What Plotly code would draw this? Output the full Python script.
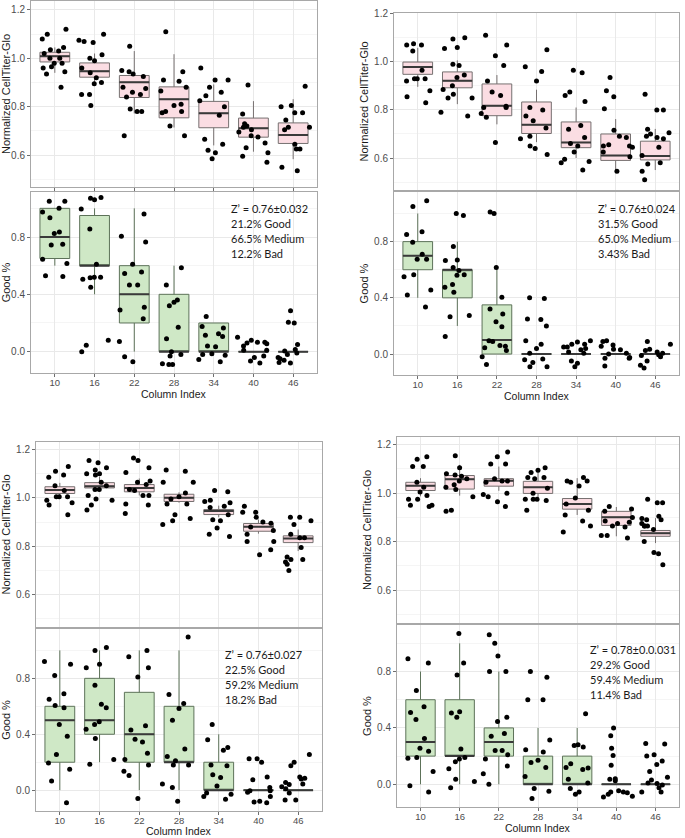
import plotly.graph_objects as go

# ---- data -------------------------------------------------------------
COLS = ["10", "16", "22", "28", "34", "40", "46"]

# box stats per column: (lower whisker, q1, median, q3, upper whisker)
A_TOP_BOX = [(0.94, 0.985, 1.009, 1.025, 1.045), (0.892, 0.922, 0.947, 0.981, 1.02),
             (0.772, 0.838, 0.901, 0.929, 1.03), (0.714, 0.754, 0.831, 0.882, 1.017),
             (0.64, 0.713, 0.773, 0.822, 0.892), (0.614, 0.674, 0.711, 0.753, 0.823),
             (0.583, 0.648, 0.683, 0.733, 0.831)]
A_TOP_PTS = [
    [1.12, 1.10, 1.08, 1.045, 1.035, 1.03, 1.0, 1.0, 0.98, 0.98, 0.965, 0.945, 0.935, 0.96, 0.88, 1.02],
    [1.10, 1.075, 1.07, 1.065, 1.015, 1.0, 0.99, 0.96, 0.94, 0.92, 0.9, 0.895, 0.85, 0.85, 0.805],
    [1.05, 0.95, 0.945, 0.935, 0.925, 0.88, 0.875, 0.86, 0.85, 0.84, 0.79, 0.78, 0.78, 0.68],
    [1.11, 0.945, 0.91, 0.905, 0.88, 0.865, 0.81, 0.805, 0.775, 0.78, 0.78, 0.72, 0.68],
    [0.96, 0.91, 0.91, 0.88, 0.86, 0.845, 0.825, 0.80, 0.765, 0.665, 0.645, 0.62, 0.61, 0.585],
    [0.89, 0.77, 0.72, 0.73, 0.715, 0.705, 0.695, 0.675, 0.68, 0.65, 0.63, 0.61, 0.595, 0.57],
    [0.885, 0.805, 0.8, 0.775, 0.775, 0.745, 0.715, 0.705, 0.715, 0.645, 0.625, 0.625, 0.55, 0.535],
]
A_BOT_BOX = [(0.6, 0.65, 0.8, 1.0, 1.0), (0.4, 0.6, 0.6, 0.95, 1.0), (0.0, 0.2, 0.4, 0.6, 1.0),
             (0.0, 0.0, 0.0, 0.4, 0.6), (0.0, 0.0, 0.0, 0.2, 0.2), (0, 0, 0, 0, 0), (0, 0, 0, 0, 0)]
A_BOT_PTS = [
    [1.05, 1.05, 1.0, 0.975, 0.935, 0.825, 0.835, 0.745, 0.75, 0.645, 0.615, 0.53, 0.525],
    [1.075, 1.07, 1.06, 0.995, 0.855, 0.61, 0.52, 0.52, 0.515, 0.505, 0.45, 0.08, 0.045, 0.0],
    [0.96, 0.805, 0.765, 0.61, 0.555, 0.545, 0.465, 0.465, 0.31, 0.29, 0.23, 0.07, -0.035, -0.07],
    [0.585, 0.465, 0.36, 0.345, 0.32, 0.17, 0.09, 0.0, -0.085, -0.09, -0.09, -0.03, -0.02],
    [0.245, 0.165, 0.175, 0.125, 0.115, 0.105, 0.04, 0.035, -0.015, -0.02, -0.025, -0.055, -0.07],
    [0.1, 0.08, 0.065, 0.055, 0.06, 0.065, 0.04, 0.01, 0.01, -0.04, -0.065, -0.08, -0.03],
    [0.285, 0.2, 0.205, 0.05, 0.015, 0.005, -0.01, -0.02, -0.05, -0.06, -0.075, -0.08, -0.04],
]
A_STATS = ["Z’ = 0.76±0.032", "21.2% Good", "66.5% Medium", "12.2% Bad"]

B_TOP_BOX = [(0.896, 0.948, 0.978, 0.999, 1.058), (0.824, 0.892, 0.921, 0.958, 1.006),
             (0.74, 0.776, 0.817, 0.908, 0.945), (0.666, 0.702, 0.738, 0.833, 0.884),
             (0.6, 0.643, 0.665, 0.75, 0.81), (0.542, 0.59, 0.61, 0.7, 0.762),
             (0.55, 0.592, 0.608, 0.67, 0.721)]
B_TOP_PTS = [
    [1.075, 1.07, 1.07, 1.045, 0.965, 0.93, 0.93, 0.93, 0.92, 0.88, 0.855, 0.83],
    [1.1, 1.095, 1.06, 1.055, 0.99, 0.985, 0.935, 0.945, 0.9, 0.885, 0.865, 0.85, 0.85, 0.79, 0.775],
    [1.11, 1.07, 1.025, 0.985, 0.92, 0.875, 0.86, 0.815, 0.81, 0.81, 0.785, 0.77, 0.665],
    [1.05, 0.96, 0.98, 0.92, 0.81, 0.8, 0.775, 0.755, 0.725, 0.69, 0.68, 0.65, 0.64, 0.615],
    [0.965, 0.955, 0.875, 0.86, 0.835, 0.735, 0.72, 0.685, 0.66, 0.65, 0.625, 0.595, 0.585, 0.58, 0.55],
    [0.935, 0.88, 0.855, 0.805, 0.715, 0.685, 0.69, 0.655, 0.645, 0.65, 0.65, 0.625, 0.605, 0.545],
    [0.865, 0.8, 0.8, 0.705, 0.7, 0.69, 0.72, 0.685, 0.68, 0.645, 0.61, 0.58, 0.575, 0.545, 0.51],
]
B_BOT_BOX = [(0.4, 0.6, 0.7, 0.8, 1.0), (0.2, 0.4, 0.6, 0.6, 0.8), (0.0, 0.0, 0.1, 0.35, 0.6),
             (0, 0, 0, 0, 0), (0, 0, 0, 0, 0), (0, 0, 0, 0, 0), (0, 0, 0, 0, 0)]
B_BOT_PTS = [
    [1.05, 1.09, 0.85, 0.87, 0.795, 0.71, 0.675, 0.675, 0.565, 0.55, 0.455, 0.42, 0.335],
    [0.985, 1.0, 0.765, 0.67, 0.665, 0.595, 0.615, 0.56, 0.565, 0.495, 0.475, 0.44, 0.265, 0.275, 0.125],
    [1.01, 1.0, 0.615, 0.405, 0.285, 0.32, 0.195, 0.23, 0.095, 0.09, 0.06, 0.055, 0.045, 0.025, -0.02, -0.075],
    [0.4, 0.395, 0.245, 0.25, 0.2, 0.095, 0.07, 0.04, 0.005, -0.035, -0.04, -0.06, -0.09, -0.09],
    [0.095, 0.085, 0.07, 0.07, 0.05, 0.05, 0.04, 0.03, 0.015, 0.005, -0.05, -0.065, -0.09],
    [0.095, 0.09, 0.055, 0.065, 0.035, 0.03, 0.005, -0.025, -0.03, -0.03, -0.085, 0.0],
    [0.09, 0.07, 0.035, 0.025, 0.015, 0.005, -0.005, -0.01, -0.05, -0.02, -0.08, -0.1],
]
B_STATS = ["Z’ = 0.76±0.024", "31.5% Good", "65.0% Medium", "3.43% Bad"]

C_TOP_BOX = [(1.0, 1.018, 1.032, 1.046, 1.062), (1.03, 1.041, 1.048, 1.063, 1.087),
             (1.01, 1.025, 1.041, 1.055, 1.08), (0.98, 0.985, 1.0, 1.015, 1.023),
             (0.92, 0.931, 0.946, 0.952, 0.968), (0.852, 0.862, 0.881, 0.894, 0.91),
             (0.78, 0.815, 0.832, 0.843, 0.869)]
C_TOP_PTS = [
    [1.13, 1.11, 1.095, 1.085, 1.05, 1.03, 1.005, 1.005, 1.005, 0.99, 0.98, 0.97, 0.93],
    [1.155, 1.145, 1.125, 1.115, 1.1, 1.1, 1.095, 1.065, 1.035, 1.05, 1.035, 1.01, 0.995, 0.99, 0.97, 0.95],
    [1.165, 1.155, 1.125, 1.105, 1.07, 1.065, 1.055, 1.035, 1.03, 1.01, 1.01, 0.975, 0.97, 0.935],
    [1.115, 1.11, 1.065, 1.065, 1.02, 1.005, 0.995, 0.975, 0.975, 0.93, 0.915, 0.905, 0.89],
    [1.03, 1.025, 0.985, 0.98, 0.99, 0.96, 0.965, 0.91, 0.905, 0.93, 0.875, 0.85, 0.84],
    [0.965, 0.94, 0.94, 0.92, 0.9, 0.895, 0.88, 0.865, 0.85, 0.82, 0.82, 0.785, 0.765],
    [0.92, 0.92, 0.89, 0.905, 0.835, 0.835, 0.85, 0.795, 0.755, 0.745, 0.745, 0.735, 0.725, 0.7],
]
C_BOT_BOX = [(0.0, 0.2, 0.5, 0.6, 1.0), (0.2, 0.4, 0.5, 0.8, 1.0), (0.0, 0.2, 0.4, 0.7, 1.0),
             (0.0, 0.2, 0.2, 0.6, 1.0), (0.0, 0.0, 0.0, 0.2, 0.4), (0, 0, 0, 0, 0), (0, 0, 0, 0, 0)]
C_BOT_PTS = [
    [0.92, 0.9, 0.82, 0.69, 0.65, 0.605, 0.59, 0.47, 0.385, 0.255, 0.195, 0.15, 0.065, -0.09],
    [1.02, 1.0, 0.9, 0.875, 0.75, 0.615, 0.59, 0.49, 0.47, 0.435, 0.37, 0.22, 0.185],
    [1.0, 0.955, 0.875, 0.81, 0.46, 0.43, 0.365, 0.345, 0.265, 0.22, 0.18, 0.135, 0.105, -0.06],
    [1.095, 0.685, 0.62, 0.585, 0.5, 0.295, 0.21, 0.24, 0.18, 0.18, 0.045, 0.02, -0.08],
    [0.47, 0.36, 0.305, 0.285, 0.175, 0.18, 0.11, 0.09, 0.03, -0.03, -0.02, -0.045, -0.065],
    [0.225, 0.225, 0.2, 0.095, 0.075, 0.02, -0.005, -0.005, -0.045, -0.015, -0.08, -0.085, -0.09],
    [0.255, 0.2, 0.175, 0.095, 0.08, 0.085, 0.055, 0.045, 0.04, 0.025, -0.02, -0.07, -0.07, 0.01],
]
C_STATS = ["Z’ = 0.76±0.027", "22.5% Good", "59.2% Medium", "18.2% Bad"]

D_TOP_BOX = [(0.987, 1.011, 1.031, 1.045, 1.062), (0.99, 1.017, 1.058, 1.073, 1.117),
             (1.01, 1.029, 1.051, 1.06, 1.11), (0.97, 0.999, 1.024, 1.049, 1.09),
             (0.91, 0.934, 0.955, 0.978, 1.062), (0.822, 0.867, 0.901, 0.925, 0.943),
             (0.794, 0.822, 0.835, 0.846, 0.897)]
D_TOP_PTS = [
    [1.15, 1.14, 1.11, 1.11, 1.045, 1.025, 1.005, 0.99, 0.975, 0.975, 0.95, 0.945, 0.95],
    [1.155, 1.105, 1.08, 1.075, 1.07, 1.035, 1.025, 1.015, 0.985, 0.93, 0.925, 1.06, 1.05],
    [1.17, 1.15, 1.12, 1.12, 1.05, 1.06, 1.05, 1.045, 0.995, 1.0, 0.985, 0.965, 0.945],
    [1.095, 1.085, 1.105, 1.06, 1.065, 1.065, 1.02, 1.0, 0.975, 0.97, 0.975, 0.975, 0.93],
    [1.065, 1.05, 1.045, 1.05, 1.03, 0.98, 0.955, 0.93, 0.91, 0.885, 0.865, 0.84],
    [0.935, 0.945, 0.925, 0.9, 0.885, 0.88, 0.875, 0.865, 0.86, 0.825, 0.825, 0.815],
    [0.975, 0.96, 0.96, 0.905, 0.895, 0.89, 0.89, 0.875, 0.865, 0.865, 0.865, 0.85, 0.8, 0.755, 0.75, 0.705],
]
D_BOT_BOX = [(0.0, 0.2, 0.3, 0.6, 0.8), (0.0, 0.2, 0.2, 0.6, 1.0), (0.0, 0.2, 0.3, 0.4, 0.8),
             (0.0, 0.0, 0.0, 0.2, 0.4), (0.0, 0.0, 0.0, 0.2, 0.4), (0, 0, 0, 0, 0), (0, 0, 0, 0, 0)]
D_BOT_PTS = [
    [0.89, 0.86, 0.665, 0.55, 0.51, 0.46, 0.325, 0.255, 0.235, 0.19, 0.185, 0.09, -0.01, -0.055],
    [1.07, 0.86, 0.775, 0.515, 0.505, 0.475, 0.25, 0.18, 0.19, 0.16, 0.11, 0.035, 0.02, -0.025],
    [1.06, 1.0, 0.91, 0.8, 0.8, 0.475, 0.445, 0.36, 0.34, 0.24, 0.24, 0.21, 0.18, 0.13, 0.075, 0.0],
    [0.8, 0.76, 0.6, 0.6, 0.315, 0.245, 0.23, 0.17, 0.155, 0.12, 0.055, -0.05, -0.03, -0.1],
    [0.5, 0.28, 0.265, 0.275, 0.12, 0.145, 0.115, 0.105, 0.035, 0.01, -0.03, -0.055, -0.07],
    [0.4, 0.345, 0.255, 0.205, 0.135, 0.035, 0.025, 0.04, -0.055, -0.06, -0.045, -0.055, -0.07, -0.09, -0.085],
    [0.29, 0.285, 0.21, 0.2, 0.165, 0.14, 0.09, 0.05, 0.01, 0.005, 0.03, -0.055, -0.055, -0.025, -0.005],
]
D_STATS = ["Z’ = 0.78±0.0.031", "29.2% Good", "59.4% Medium", "11.4% Bad"]

# ---- style ------------------------------------------------------------
W, H = 685, 838
PINK, PINK_LINE = "#fbdde3", "#767070"
GREEN, GREEN_LINE = "#cfe8c6", "#5d7259"
MEDIAN = "#3a3a3a"
GRID, MINOR, BORDER = "#e9e9e9", "#f5f5f5", "#a8a8a8"
TICK_TXT = "#4d4d4d"
TITLE_TXT = "#1a1a1a"
FONT = "Liberation Sans, Arial, sans-serif"
BOX_W = 0.75

# pixel boxes of each plotting area: (left, right, top, bottom), stats text anchor,
# and the vertical position of the "Column Index" title
PANELS = [
    dict(top=(31, 317, 1, 187), bot=(31, 317, 192, 373), txt=(230, 208), xt=394,
         data=(A_TOP_BOX, A_TOP_PTS, A_BOT_BOX, A_BOT_PTS, A_STATS),
         yr_top=(0.468, 1.237), yr_bot=(-0.149, 1.114)),
    dict(top=(394, 679, 13, 190), bot=(394, 679, 192, 375), txt=(597, 208), xt=396,
         data=(B_TOP_BOX, B_TOP_PTS, B_BOT_BOX, B_BOT_PTS, B_STATS),
         yr_top=(0.467, 1.203), yr_bot=(-0.149, 1.153)),
    dict(top=(36, 322, 442, 627), bot=(36, 322, 629, 811), txt=(224, 654), xt=831,
         data=(C_TOP_BOX, C_TOP_PTS, C_BOT_BOX, C_BOT_PTS, C_STATS),
         yr_top=(0.466, 1.231), yr_bot=(-0.149, 1.153)),
    dict(top=(397, 679, 437, 623), bot=(397, 679, 625, 807), txt=(589, 649), xt=828,
         data=(D_TOP_BOX, D_TOP_PTS, D_BOT_BOX, D_BOT_PTS, D_STATS),
         yr_top=(0.464, 1.232), yr_bot=(-0.161, 1.13)),
]


def add_boxes(fig, n, box, pts, fill, line_col):
    ax = "" if n == 1 else str(n)
    lo, q1, med, q3, hi = [list(v) for v in zip(*box)]
    fig.add_trace(go.Box(
        x=COLS, q1=q1, median=med, q3=q3, lowerfence=lo, upperfence=hi, width=BOX_W,
        fillcolor=fill, line=dict(color=line_col, width=1), whiskerwidth=0,
        boxpoints=False, xaxis="x" + ax, yaxis="y" + ax, showlegend=False,
    ))
    # thicker median bar drawn on top
    fig.add_trace(go.Box(
        x=COLS, q1=med, median=med, q3=med, lowerfence=med, upperfence=med, width=BOX_W,
        fillcolor="rgba(0,0,0,0)", line=dict(color=MEDIAN, width=2), whiskerwidth=0,
        boxpoints=False, xaxis="x" + ax, yaxis="y" + ax, showlegend=False, hoverinfo="skip",
    ))
    xs, ys = [], []
    for c, vals in zip(COLS, pts):
        xs += [c] * len(vals)
        ys += vals
    fig.add_trace(go.Box(
        x=xs, y=ys, boxpoints="all", jitter=1, pointpos=0, width=0.85,
        fillcolor="rgba(0,0,0,0)", line=dict(color="rgba(0,0,0,0)", width=0),
        marker=dict(color="black", size=5), whiskerwidth=0,
        xaxis="x" + ax, yaxis="y" + ax, showlegend=False,
    ))


fig = go.Figure()
layout = {}
n = 0
for p in PANELS:
    top_box, top_pts, bot_box, bot_pts, stats = p["data"]
    for part in ("top", "bot"):
        n += 1
        l, r, t, b = p[part]
        key = "" if n == 1 else str(n)
        is_top = part == "top"
        if is_top:
            add_boxes(fig, n, top_box, top_pts, PINK, PINK_LINE)
        else:
            add_boxes(fig, n, bot_box, bot_pts, GREEN, GREEN_LINE)
        layout["xaxis" + key] = dict(
            domain=[l / W, r / W], anchor="y" + key, type="category",
            categoryorder="array", categoryarray=COLS, range=[-0.6, 6.6],
            showline=True, mirror=True, linecolor=BORDER, linewidth=1,
            showgrid=True, gridcolor=GRID, zeroline=False, automargin=False,
            ticks="outside", ticklen=3, tickcolor="#6e6e6e", ticklabelstandoff=-2,
            showticklabels=not is_top,
            tickfont=dict(size=9.5, color=TICK_TXT, family=FONT),
        )
        yr = p["yr_top"] if is_top else p["yr_bot"]
        layout["yaxis" + key] = dict(
            domain=[1 - b / H, 1 - t / H], anchor="x" + key, range=list(yr),
            showline=True, mirror=True, linecolor=BORDER, linewidth=1,
            showgrid=True, gridcolor=GRID, zeroline=False, automargin=False,
            tick0=0, dtick=0.2 if is_top else 0.4, tickformat=".1f",
            minor=dict(dtick=0.1 if is_top else 0.2, showgrid=True, gridcolor=MINOR),
            ticks="outside", ticklen=3, tickcolor="#6e6e6e",
            tickfont=dict(size=10, color=TICK_TXT, family=FONT),
            title=dict(text="Normalized CellTiter-Glo" if is_top else "Good %", standoff=3,
                       font=dict(size=11, color=TITLE_TXT, family=FONT)),
        )
    # x-axis title under the lower subplot
    l, r, _, _ = p["bot"]
    fig.add_annotation(
        x=(l + r) / 2 / W, y=1 - p["xt"] / H, xref="paper", yref="paper",
        xanchor="center", yanchor="middle", showarrow=False, text="Column Index",
        borderpad=0, font=dict(size=10.5, color=TITLE_TXT, family=FONT),
    )
    tx, ty = p["txt"]
    for i, line in enumerate(stats):
        fig.add_annotation(
            x=tx / W, y=1 - (ty + 15 * i) / H, xref="paper", yref="paper",
            xanchor="left", yanchor="middle", align="left", showarrow=False, text=line,
            borderpad=0, font=dict(size=11, color=TITLE_TXT, family="Lato, sans-serif"),
        )

fig.update_layout(
    **layout,
    template="none",
    width=W, height=H, margin=dict(l=0, r=0, t=0, b=0),
    paper_bgcolor="white", plot_bgcolor="white",
    boxmode="overlay",
    font=dict(family=FONT),
    showlegend=False,
)

# the page body has a default 8px margin; drop it so the figure fills the window
fig.write_html("out.html", config={"displayModeBar": False},
               post_script="document.body.style.margin='0';")
